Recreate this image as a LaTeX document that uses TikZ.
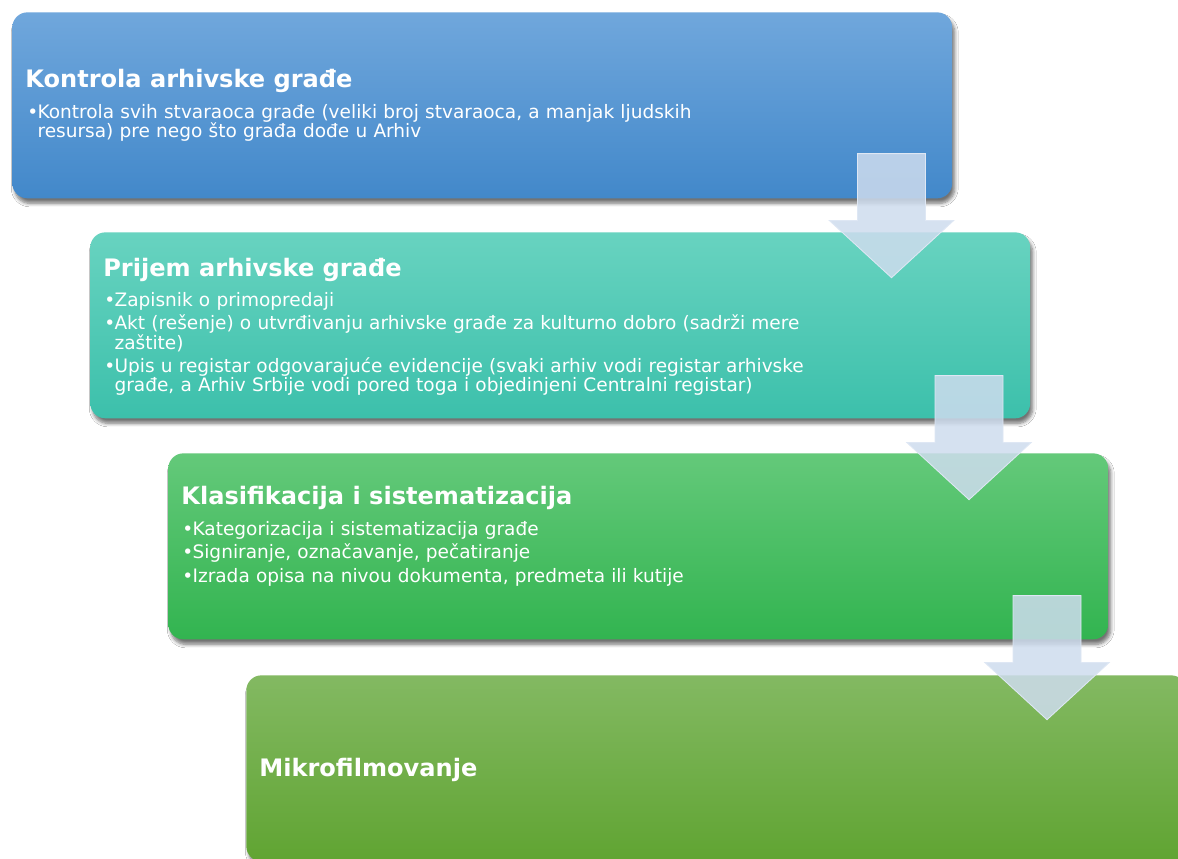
\documentclass[tikz,border=0pt]{standalone}
\usepackage{fontspec}
\setmainfont{DejaVu Sans}
\usepackage{tikz}
\usetikzlibrary{calc,shadows.blur}

\definecolor{KontrolaTop}{RGB}{112,167,220}
\definecolor{KontrolaBot}{RGB}{66,136,202}
\definecolor{PrijemTop}{RGB}{104,211,192}
\definecolor{PrijemBot}{RGB}{60,192,171}
\definecolor{KlasTop}{RGB}{100,201,122}
\definecolor{KlasBot}{RGB}{50,180,80}
\definecolor{MikroTop}{RGB}{131,185,98}
\definecolor{MikroBot}{RGB}{96,164,50}
\definecolor{StrelicaFill}{RGB}{206,220,238}
\definecolor{StrelicaLine}{RGB}{222,231,244}

\tikzset{
    korak/.style={
        rectangle,
        rounded corners=0.3cm,
        minimum width=18.8cm,
        minimum height=3.72cm,
        inner sep=0pt,
        anchor=north west,
        blur shadow={shadow xshift=0.05cm, shadow yshift=-0.1cm,
                     shadow blur radius=0.07cm, shadow blur steps=6,
                     shadow opacity=55}
    },
    naslov/.style={
        anchor=base west,
        inner sep=0pt,
        text=white,
        font=\bfseries\fontsize{13.7}{16}\selectfont
    },
    stavke/.style={
        anchor=base west,
        inner sep=0pt,
        text=white,
        text width=16cm,
        align=left,
        font=\fontsize{10.55}{11}\selectfont
    }, 
    strelica/.style={
        fill=StrelicaFill,
        fill opacity=0.85,
        draw=StrelicaLine,
        line width=0.5pt
    }
}

\newcommand{\stavka}[1]{\par\hangindent=0.55em\hangafter=1\makebox[0.55em][l]{•}#1\par}
\newcommand{\novired}{\hfil\break}
\newcommand{\nacrtajstrelicu}[1]{%
    \filldraw[strelica] ($(#1)+(-34,0)$) -- ++(68,0) -- ++(0,67) -- ++(28,0)
        -- ++(-62,57) -- ++(-62,-57) -- ++(28,0) -- cycle;}

\begin{document}
\begin{tikzpicture}[x=0.02cm, y=-0.02cm]
    \useasboundingbox (0,0) rectangle (1178,859);
    \fill[white] (0,0) rectangle (1178,859);
    \clip (0,0) rectangle (1178,859);

    %% Korak 1: Kontrola
    \node (K) [korak, top color=KontrolaTop, bottom color=KontrolaBot] at (12,12) {};
    \node (Kn) [naslov] at ($(K.north west)+(13,75)$) {Kontrola arhivske građe};
    \node (Ks) [stavke] at ($(K.north west)+(15,83)$) {\setlength{\parskip}{2.3pt}%
        \stavka{Kontrola svih stvaraoca građe (veliki broj stvaraoca, a manjak ljudskih\novired
        resursa) pre nego što građa dođe u Arhiv}};

    %% Korak 2: Prijem
    \node (P) [korak, top color=PrijemTop, bottom color=PrijemBot] at ($(K.north west)+(78,220)$) {};
    \node (Pn) [naslov] at ($(P.north west)+(13,44)$) {Prijem arhivske građe};
    \node (Ps) [stavke] at ($(P.north west)+(14,51)$) {\setlength{\parskip}{2.3pt}%
        \stavka{Zapisnik o primopredaji}
        \stavka{Akt (rešenje) o utvrđivanju arhivske građe za kulturno dobro (sadrži mere\novired
        zaštite)}
        \stavka{Upis u registar odgovarajuće evidencije (svaki arhiv vodi registar arhivske\novired
        građe, a Arhiv Srbije vodi pored toga i objedinjeni Centralni registar)}};

    %% Korak 3: Klasifikacija
    \node (L) [korak, top color=KlasTop, bottom color=KlasBot] at ($(P.north west)+(78,221)$) {};
    \node (Ln) [naslov] at ($(L.north west)+(13,51)$) {Klasifikacija i sistematizacija};
    \node (Ls) [stavke] at ($(L.north west)+(14,59)$) {\setlength{\parskip}{2.3pt}%
        \stavka{Kategorizacija i sistematizacija građe}
        \stavka{Signiranje, označavanje, pečatiranje}
        \stavka{Izrada opisa na nivou dokumenta, predmeta ili kutije}};

    %% Korak 4: Mikrofilmovanje
    \node (M) [korak, top color=MikroTop, bottom color=MikroBot] at ($(L.north west)+(78,222)$) {};
    \node (Mn) [naslov] at ($(M.north west)+(13,101)$) {Mikrofilmovanje};

    %% strelice
    \coordinate (S1) at ($(K.south east)+(-61,-45)$);
    \coordinate (S2) at ($(P.south east)+(-61.5,-43)$);
    \coordinate (S3) at ($(L.south east)+(-61.5,-44)$);
    \nacrtajstrelicu{S1}
    \nacrtajstrelicu{S2}
    \nacrtajstrelicu{S3}

\end{tikzpicture}
\end{document}
